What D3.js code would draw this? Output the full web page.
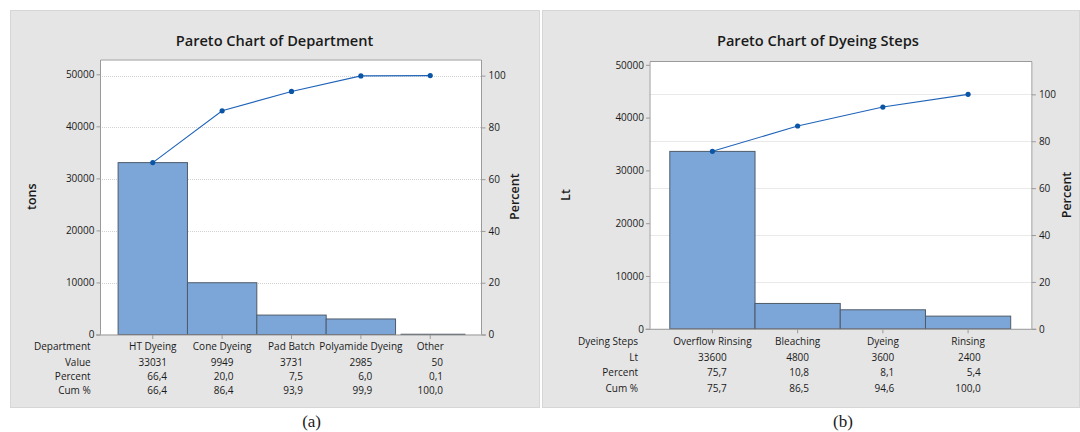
<!DOCTYPE html>
<html><head><meta charset="utf-8">
<script src="https://cdn.jsdelivr.net/npm/d3@7"></script>
<style>
body{margin:0;background:#fff;}
svg text{font-family:"Open Sans","Noto Sans",sans-serif;fill:#1a1a1a;}
</style></head><body>
<svg id="c" width="1080" height="432"></svg>
<script>
// ---- Data ----
const deptCategories = ["HT Dyeing","Cone Dyeing","Pad Batch","Polyamide Dyeing","Other"];
const deptValues = [33031, 9949, 3731, 2985, 50];
const deptPercentLabels = ["66,4","20,0","7,5","6,0","0,1"];
const deptCumLabels = ["66,4","86,4","93,9","99,9","100,0"];
const deptCumPercent = [66.4, 86.4, 93.9, 99.9, 100.0];

const stepCategories = ["Overflow Rinsing","Bleaching","Dyeing","Rinsing"];
const stepValues = [33600, 4800, 3600, 2400];
const stepPercentLabels = ["75,7","10,8","8,1","5,4"];
const stepCumLabels = ["75,7","86,5","94,6","100,0"];
const stepCumPercent = [75.7, 86.5, 94.6, 100.0];

const countTicks = [0, 10000, 20000, 30000, 40000, 50000];
const percentTicks = [0, 20, 40, 60, 80, 100];

// ---- Chart specs (layout only) ----
const charts = [
  {title:"Pareto Chart of Department", yTitle:"tons", catHead:"Department", valHead:"Value",
   cats:deptCategories, vals:deptValues, pct:deptPercentLabels, cum:deptCumLabels, cumP:deptCumPercent,
   panel:[10,10,530,398], plot:{l:100,r:482,t:59.5,b:334.5}, yTop:74.3, band:[118.1,464.9], otherGap:5.5,
   rowY:[346.7,362.3,376.3,390.7], rowLabelX:90.7, titleX:274.5, titleY:46,
   yTitleX:31.7, pTitleX:514.8, axTitleY:196.7, caption:"(a)", capX:311.6, capY:421.5},
  {title:"Pareto Chart of Dyeing Steps", yTitle:"Lt", catHead:"Dyeing Steps", valHead:"Lt",
   cats:stepCategories, vals:stepValues, pct:stepPercentLabels, cum:stepCumLabels, cumP:stepCumPercent,
   panel:[542,10,538,398], plot:{l:649.5,r:1032.4,t:61,b:328.8}, yTop:64.8, band:[669.8,1010.7], otherGap:5.5,
   rowY:[341.7,357,372.5,388], rowLabelX:638.1, titleX:817.9, titleY:46,
   yTitleX:565.8, pTitleX:1067, axTitleY:195, caption:"(b)", capX:843, capY:421.5}
];

const svg = d3.select("#c");
const axisCol = "#9a9a9a";

charts.forEach(c => {
  const g = svg.append("g");
  const [px,py,pw,ph] = c.panel;
  g.append("rect").attr("x",px+0.5).attr("y",py+0.5).attr("width",pw-1).attr("height",ph-1)
    .attr("fill","#e5e5e5").attr("stroke","#d6d6d6");

  const P = c.plot;
  const y = d3.scaleLinear().domain([0,50000]).range([P.b, c.yTop]);
  const total = d3.sum(c.vals);
  const yp = d3.scaleLinear().domain([0,100]).range([P.b, y(total)]);
  const x = d3.scaleBand().domain(c.cats).range(c.band).padding(0);

  // plot area
  g.append("rect").attr("x",P.l).attr("y",P.t).attr("width",P.r-P.l).attr("height",P.b-P.t)
    .attr("fill","#fff");

  // gridlines (dotted) at percent ticks
  g.selectAll(".grid").data(percentTicks.filter(d=>d>0)).join("line")
    .attr("x1",P.l).attr("x2",P.r)
    .attr("y1",d=>Math.round(yp(d))+0.5).attr("y2",d=>Math.round(yp(d))+0.5)
    .attr("stroke","#d2d2d2").attr("stroke-width",1).attr("stroke-dasharray","1,1");

  // frame
  g.append("path")
    .attr("d",`M${P.l+0.5},${P.b}V${P.t+0.5}H${P.r-0.5}V${P.b}`)
    .attr("fill","none").attr("stroke",axisCol);

  // bars
  g.selectAll(".bar").data(c.cats).join("rect")
    .attr("x",(d,i)=> x(d) + (d==="Other" ? c.otherGap : 0))
    .attr("width",(d,i)=> x.bandwidth() - (d==="Other" ? c.otherGap : 0))
    .attr("y",(d,i)=> y(c.vals[i]))
    .attr("height",(d,i)=> P.b - y(c.vals[i]))
    .attr("fill","#7ca6d8").attr("stroke","#4f5b69").attr("stroke-width",1);

  // zero line
  g.append("line").attr("x1",P.l-4).attr("x2",P.r+4).attr("y1",P.b+0.5).attr("y2",P.b+0.5)
    .attr("stroke",axisCol);

  // left axis
  const la = g.append("g").attr("transform",`translate(${P.l+0.5},0)`)
    .call(d3.axisLeft(y).tickValues(countTicks).tickFormat(d3.format("d")).tickSize(4).tickPadding(2));
  // right axis
  const ra = g.append("g").attr("transform",`translate(${P.r-0.5},0)`)
    .call(d3.axisRight(yp).tickValues(percentTicks).tickFormat(d3.format("d")).tickSize(4).tickPadding(3));
  // bottom ticks
  const ba = g.append("g").attr("transform",`translate(0,${P.b+0.5})`)
    .call(d3.axisBottom(x).tickSize(4).tickFormat(""));
  [la,ra,ba].forEach(a=>{
    a.select(".domain").remove();
    a.selectAll(".tick line").attr("stroke",axisCol);
    a.selectAll(".tick text").attr("font-size",10).style("fill","#1a1a1a")
      .attr("font-family",'"Open Sans","Noto Sans",sans-serif');
  });

  // cumulative line
  const line = d3.line().x((d,i)=>x(c.cats[i])+x.bandwidth()/2).y(d=>yp(d));
  g.append("path").datum(c.cumP).attr("d",line).attr("fill","none")
    .attr("stroke","#1f63b8").attr("stroke-width",1.1);
  g.selectAll(".pt").data(c.cumP).join("circle")
    .attr("cx",(d,i)=>x(c.cats[i])+x.bandwidth()/2).attr("cy",d=>yp(d)).attr("r",2.6)
    .attr("fill","#0b55a6");

  // titles
  g.append("text").attr("x",c.titleX).attr("y",c.titleY).attr("text-anchor","middle")
    .attr("font-size",14.6).attr("font-weight",600).text(c.title);
  g.append("text").attr("transform",`translate(${c.yTitleX},${c.axTitleY}) rotate(-90)`)
    .attr("text-anchor","middle").attr("dy","0.35em").attr("font-size",12.5).attr("font-weight",600)
    .text(c.yTitle);
  g.append("text").attr("transform",`translate(${c.pTitleX},${c.axTitleY}) rotate(-90)`)
    .attr("text-anchor","middle").attr("dy","0.35em").attr("font-size",12.5).attr("font-weight",600)
    .text("Percent");

  // table
  const heads = [c.catHead, c.valHead, "Percent", "Cum %"];
  heads.forEach((h,r)=>{
    g.append("text").attr("x",c.rowLabelX).attr("y",c.rowY[r]).attr("dy","0.35em")
      .attr("text-anchor","end").attr("font-size",10).text(h);
  });
  c.cats.forEach((cat,i)=>{
    const cx = x(cat)+x.bandwidth()/2;
    g.append("text").attr("x",cx).attr("y",c.rowY[0]).attr("dy","0.35em")
      .attr("text-anchor","middle").attr("font-size",10).text(cat);
    const nums = [String(c.vals[i]), c.pct[i], c.cum[i]];
    const tmp = nums.map((s,k)=> g.append("text").attr("y",c.rowY[k+1]).attr("dy","0.35em")
      .attr("text-anchor","end").attr("font-size",10).text(s));
    const w = d3.max(tmp, t=>t.node().getComputedTextLength());
    tmp.forEach(t=>t.attr("x", cx + w/2));
  });

  // caption
  svg.append("text").attr("x",c.capX).attr("y",c.capY).attr("dy","0.35em").attr("text-anchor","middle")
    .style("font-family",'"Liberation Serif","Times New Roman",serif').attr("font-size",17)
    .text(c.caption);
});
</script>
</body></html>
